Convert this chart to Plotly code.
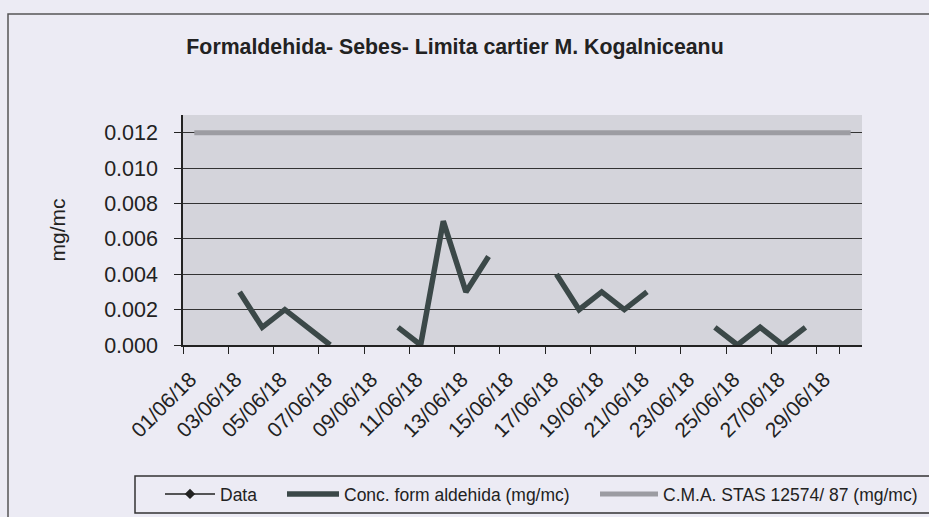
import plotly.graph_objects as go

dates = [f"{d:02d}/06/18" for d in range(1, 31)]
tick_labels = dates[::2]

conc = [None, None, 0.003, 0.001, 0.002, 0.001, 0.000, None, None, 0.001,
        0.000, 0.007, 0.003, 0.005, None, None, 0.004, 0.002, 0.003, 0.002,
        0.003, None, None, 0.001, 0.000, 0.001, 0.000, 0.001, None, None]
cma = [0.012] * 30
data_series = [None] * 30

title = "Formaldehida- Sebes- Limita cartier M. Kogalniceanu"
y_title = "mg/mc"
names = ["Data", "Conc. form aldehida (mg/mc)", "C.M.A. STAS 12574/ 87 (mg/mc)"]

FONT = "Liberation Sans, Arial, sans-serif"
W, H = 929, 517
L, R, T, B = 183, 67, 115, 172
pw, ph = W - L - R, H - T - B

def px_x(x):
    return (x - L) / pw

def px_y(y):
    return (H - B - y) / ph

fig = go.Figure()
fig.add_trace(go.Scatter(x=dates, y=data_series, name=names[0], mode="lines+markers",
                         line=dict(color="#222222", width=1.5), legend="legend",
                         marker=dict(symbol="diamond", size=8, color="#222222")))
fig.add_trace(go.Scatter(x=dates, y=conc, name=names[1], mode="lines", legend="legend2",
                         line=dict(color="#3b4848", width=5.5), connectgaps=False))
fig.add_trace(go.Scatter(x=dates, y=cma, name=names[2], mode="lines", legend="legend3",
                         line=dict(color="#9c9ca2", width=5)))

leg_common = dict(orientation="h", xanchor="left", yanchor="middle", y=px_y(494),
                  bgcolor="rgba(0,0,0,0)", borderwidth=0,
                  font=dict(size=17.5, family=FONT, color="#222222"))

fig.update_layout(
    width=W, height=H,
    margin=dict(l=L, r=R, t=T, b=B, autoexpand=False),
    paper_bgcolor="#ecebf4",
    plot_bgcolor="#d4d4db",
    font=dict(family=FONT, size=21, color="#222222"),
    title=dict(text=f"<b>{title}</b>", x=px_x(455), xref="paper", xanchor="center",
               y=1 - 47 / H, yanchor="middle", font=dict(size=21.3, family=FONT, color="#222222")),
    showlegend=True,
    legend=dict(x=px_x(160), itemwidth=50, **leg_common),
    legend2=dict(x=px_x(282), itemwidth=52, **leg_common),
    legend3=dict(x=px_x(595), itemwidth=58, **leg_common),
    xaxis=dict(type="category", tickvals=tick_labels, ticktext=tick_labels,
               tickson="boundaries", ticks="outside", ticklen=7, tickcolor="#222222",
               tickangle=-45, showline=True, linecolor="#222222", linewidth=1.5,
               showgrid=False, range=[-0.5, 29.5], tickfont=dict(size=21),
               ticklabelstandoff=12, ticklabelshift=-4, automargin=False),
    yaxis=dict(range=[0, 0.013], tickvals=[0, 0.002, 0.004, 0.006, 0.008, 0.010, 0.012],
               tickformat=".3f", ticks="outside", ticklen=7, tickcolor="#222222",
               showline=True, linecolor="#222222", linewidth=1.5,
               showgrid=True, gridcolor="#333333", gridwidth=1.3, zeroline=False,
               ticklabelstandoff=12, tickfont=dict(size=21.5), automargin=False,
               title=dict(text=y_title, standoff=33, font=dict(size=21))),
    shapes=[
        dict(type="rect", xref="paper", yref="paper",
             x0=px_x(8), x1=px_x(940), y0=px_y(530), y1=px_y(14),
             line=dict(color="#555555", width=1.5), layer="below"),
        dict(type="rect", xref="paper", yref="paper",
             x0=px_x(135), x1=px_x(935), y0=px_y(513), y1=px_y(476),
             line=dict(color="#333333", width=1.5), layer="below"),
    ],
)

fig.write_html("out.html", config={"displayModeBar": False},
               post_script="document.body.style.margin='0px';")
